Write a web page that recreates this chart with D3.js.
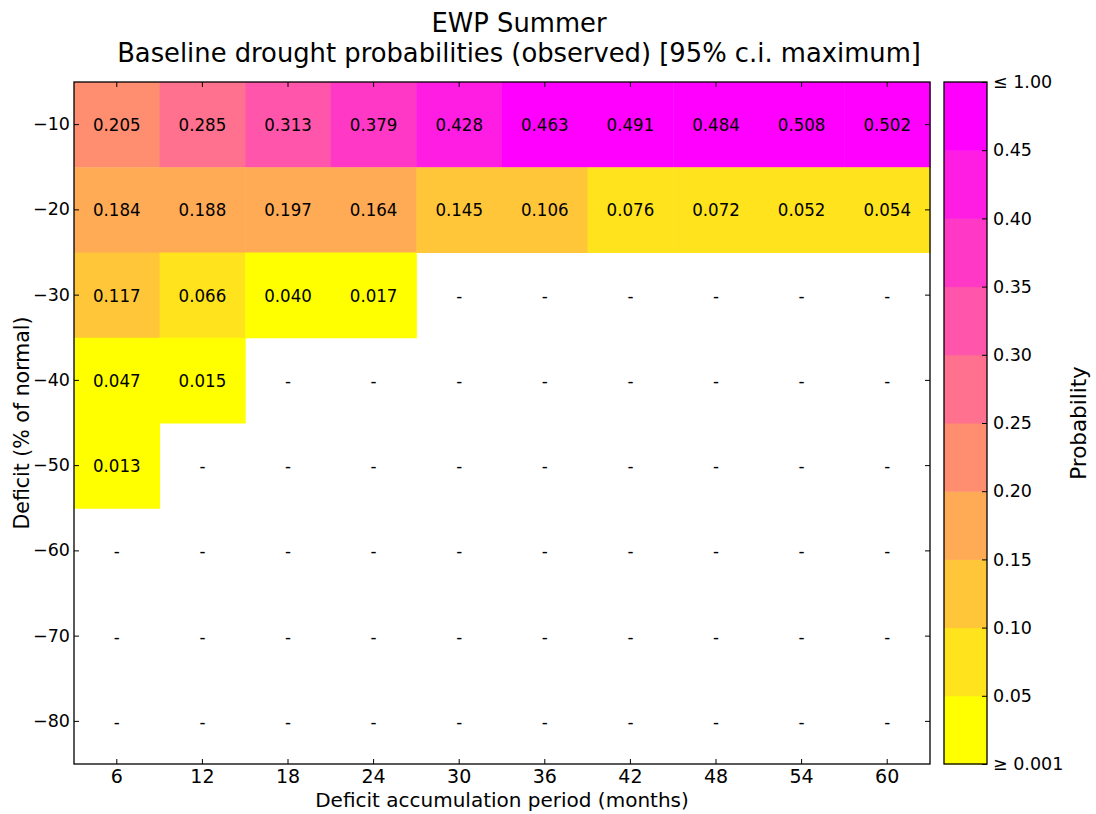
<!DOCTYPE html>
<html>
<head>
<meta charset="utf-8">
<script src="https://cdn.jsdelivr.net/npm/d3@7"></script>
<style>
  html, body { margin: 0; padding: 0; background: #fff; }
  text { font-family: "DejaVu Sans", sans-serif; fill: #000; }
</style>
</head>
<body>
<svg id="chart" width="1096" height="814"></svg>
<script>
// Deficit accumulation periods (months) and deficit levels (% of normal)
const periods = [6, 12, 18, 24, 30, 36, 42, 48, 54, 60];
const deficits = [-10, -20, -30, -40, -50, -60, -70, -80];

// Probabilities per deficit row (null = no value)
const row10 = [0.205, 0.285, 0.313, 0.379, 0.428, 0.463, 0.491, 0.484, 0.508, 0.502];
const row20 = [0.184, 0.188, 0.197, 0.164, 0.145, 0.106, 0.076, 0.072, 0.052, 0.054];
const row30 = [0.117, 0.066, 0.040, 0.017, null, null, null, null, null, null];
const row40 = [0.047, 0.015, null, null, null, null, null, null, null, null];
const row50 = [0.013, null, null, null, null, null, null, null, null, null];
const row60 = [null, null, null, null, null, null, null, null, null, null];
const row70 = [null, null, null, null, null, null, null, null, null, null];
const row80 = [null, null, null, null, null, null, null, null, null, null];
const rows = [row10, row20, row30, row40, row50, row60, row70, row80];

// Colour bin boundaries and their labels
const binEdges = [0.001, 0.05, 0.10, 0.15, 0.20, 0.25, 0.30, 0.35, 0.40, 0.45, 1.00];
const binLabels = ["\u2265 0.001", "0.05", "0.10", "0.15", "0.20", "0.25", "0.30", "0.35", "0.40", "0.45", "\u2264 1.00"];

const titleLines = ["EWP Summer", "Baseline drought probabilities (observed) [95% c.i. maximum]"];

const svg = d3.select("#chart");
const plot = { left: 74, right: 930, top: 82, bottom: 764 };
const cbar = { left: 944, right: 987 };

// Discrete spring-style palette: yellow (low) to magenta (high)
const nBins = binEdges.length - 1;
const binColors = d3.range(nBins).map(i => {
  const g = 1 - i / (nBins - 1);
  return d3.rgb(255, Math.round(255 * g), Math.round(255 * (1 - g))).formatHex();
});
const colour = d3.scaleThreshold().domain(binEdges.slice(1, -1)).range(binColors);

const x = d3.scaleBand().domain(periods).range([plot.left, plot.right]);
const y = d3.scaleBand().domain(deficits).range([plot.top, plot.bottom]);

const cells = [];
rows.forEach((r, ri) => r.forEach((v, ci) => cells.push({ d: deficits[ri], p: periods[ci], v })));

// Heatmap cells
svg.append("g").selectAll("rect")
  .data(cells.filter(c => c.v !== null))
  .join("rect")
  .attr("x", c => x(c.p))
  .attr("y", c => y(c.d))
  .attr("width", x.bandwidth() + 0.5)
  .attr("height", y.bandwidth() + 0.5)
  .attr("fill", c => colour(c.v));

// Cell annotations
svg.append("g").selectAll("text")
  .data(cells)
  .join("text")
  .attr("transform", c => `translate(${x(c.p) + x.bandwidth() / 2},${y(c.d) + y.bandwidth() / 2 + 6.5}) scale(0.9,1)`)
  .attr("text-anchor", "middle")
  .style("font-size", "18.5px")
  .text(c => c.v === null ? "-" : d3.format(".3f")(c.v));

// Axes with inward ticks on all four sides
const tickLen = 5;
const minusFmt = d => String(d).replace("-", "\u2212");
const axisB = d3.axisBottom(x).tickSizeInner(-tickLen).tickSizeOuter(0).tickPadding(6);
const axisT = d3.axisTop(x).tickSizeInner(-tickLen).tickSizeOuter(0).tickFormat("");
const axisL = d3.axisLeft(y).tickSizeInner(-tickLen).tickSizeOuter(0).tickPadding(4).tickFormat(minusFmt);
const axisR = d3.axisRight(y).tickSizeInner(-tickLen).tickSizeOuter(0).tickFormat("");

function styleAxis(size) {
  return g => {
    g.select(".domain").remove();
    g.selectAll("text").style("font-size", size).attr("font-family", null);
    g.selectAll("line").attr("stroke", "#000");
  };
}
svg.append("g").attr("transform", `translate(0,${plot.bottom})`).call(axisB).call(styleAxis("19px"));
svg.append("g").attr("transform", `translate(0,${plot.top})`).call(axisT).call(styleAxis("19px"));
svg.append("g").attr("transform", `translate(${plot.left},0)`).call(axisL).call(styleAxis("17.5px"));
svg.append("g").attr("transform", `translate(${plot.right},0)`).call(axisR).call(styleAxis("19px"));

svg.append("rect")
  .attr("x", plot.left).attr("y", plot.top)
  .attr("width", plot.right - plot.left).attr("height", plot.bottom - plot.top)
  .attr("fill", "none").attr("stroke", "#000").attr("stroke-width", 1.3);

// Colour bar
const cy = d3.scaleLinear().domain([0, nBins]).range([plot.bottom, plot.top]);
svg.append("g").selectAll("rect")
  .data(binColors)
  .join("rect")
  .attr("x", cbar.left)
  .attr("y", (c, i) => cy(i + 1))
  .attr("width", cbar.right - cbar.left)
  .attr("height", (c, i) => cy(i) - cy(i + 1) + 0.5)
  .attr("fill", c => c);

const cbAxis = d3.axisRight(cy)
  .tickValues(d3.range(nBins + 1))
  .tickFormat(i => binLabels[i])
  .tickSizeInner(-tickLen).tickSizeOuter(0).tickPadding(6);
svg.append("g").attr("transform", `translate(${cbar.right},0)`).call(cbAxis)
  .call(styleAxis("17.5px"));
svg.append("rect")
  .attr("x", cbar.left).attr("y", plot.top)
  .attr("width", cbar.right - cbar.left).attr("height", plot.bottom - plot.top)
  .attr("fill", "none").attr("stroke", "#000").attr("stroke-width", 1.3);

// Labels
svg.append("text")
  .attr("transform", `translate(1086,${(plot.top + plot.bottom) / 2}) rotate(-90)`)
  .attr("text-anchor", "middle")
  .style("font-size", "21.5px")
  .text("Probability");

svg.append("text")
  .attr("x", (plot.left + plot.right) / 2).attr("y", 807)
  .attr("text-anchor", "middle")
  .style("font-size", "20px")
  .text("Deficit accumulation period (months)");

svg.append("text")
  .attr("transform", `translate(29,${(plot.top + plot.bottom) / 2}) rotate(-90)`)
  .attr("text-anchor", "middle")
  .style("font-size", "20.5px")
  .text("Deficit (% of normal)");

svg.append("g").selectAll("text")
  .data(titleLines)
  .join("text")
  .attr("x", 519)
  .attr("y", (d, i) => 32 + i * 30)
  .attr("text-anchor", "middle")
  .style("font-size", "25.8px")
  .text(d => d);
</script>
</body>
</html>
